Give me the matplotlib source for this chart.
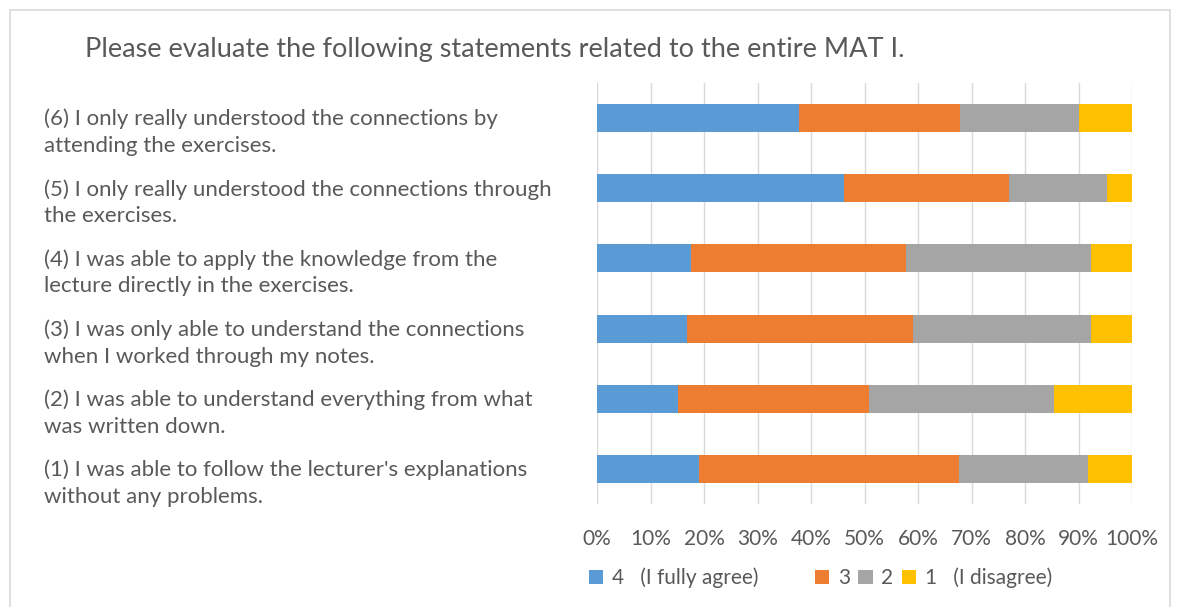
import matplotlib
matplotlib.use("Agg")
import matplotlib.pyplot as plt
from matplotlib.patches import Rectangle
from matplotlib.transforms import ScaledTranslation
import numpy as np

statements = [
    "(1) I was able to follow the lecturer's explanations\nwithout any problems.",
    "(2) I was able to understand everything from what\nwas written down.",
    "(3) I was only able to understand the connections\nwhen I worked through my notes.",
    "(4) I was able to apply the knowledge from the\nlecture directly in the exercises.",
    "(5) I only really understood the connections through\nthe exercises.",
    "(6) I only really understood the connections by\nattending the exercises.",
]
series_labels = ["4   (I fully agree)" + "\u00a0" * 9, "3", "2", "1   (I disagree)"]
v4 = [19.1, 15.1, 16.8, 17.6, 46.1, 37.7]
v3 = [48.6, 35.7, 42.3, 40.2, 30.9, 30.1]
v2 = [24.0, 34.6, 33.3, 34.6, 18.4, 22.2]
v1 = [8.3, 14.6, 7.6, 7.6, 4.6, 10.0]
xticks = [0, 10, 20, 30, 40, 50, 60, 70, 80, 90, 100]
xticklabels = ["0%", "10%", "20%", "30%", "40%", "50%", "60%", "70%", "80%", "90%", "100%"]

colors = ["#5B9BD5", "#ED7D31", "#A5A5A5", "#FFC000"]
txt = "#595959"
plt.rcParams['font.family'] = ['Lato', 'DejaVu Sans']

W, H = 1179, 607
fig = plt.figure(figsize=(W / 100, H / 100), dpi=100)
fig.patches.append(Rectangle((10 / W, -0.1), (1170 - 10) / W, 1.1 - 10 / H,
                             transform=fig.transFigure, fill=False,
                             edgecolor="#D9D9D9", linewidth=1.2))

ax = fig.add_axes([597 / W, 1 - 504 / H, (1132 - 597) / W, (504 - 83) / H])
y = np.arange(len(statements))
left = np.zeros(len(statements))
for vals, c, lab in zip([v4, v3, v2, v1], colors, series_labels):
    ax.barh(y, vals, left=left, height=0.4, color=c, label=lab, zorder=3)
    left += np.array(vals)

ax.set_xlim(0, 100)
ax.set_ylim(-0.5, len(statements) - 0.5)
ax.set_xticks(xticks)
ax.set_xticklabels(xticklabels, fontsize=15, color=txt)
ax.set_yticks(y)
ax.set_yticklabels(statements, fontsize=16, color=txt, ha="left", linespacing=1.42)
ax.tick_params(axis="y", length=0, pad=(597 - 44) * 0.72)
ax.tick_params(axis="x", length=0, pad=18)
shift = ScaledTranslation(0, -9 / 100, fig.dpi_scale_trans)
for lbl in ax.get_yticklabels():
    lbl.set_transform(lbl.get_transform() + shift)
ax.grid(axis="x", color="#D9D9D9", linewidth=1, zorder=0)
for s in ax.spines.values():
    s.set_visible(False)

fig.text(85 / W, 1 - 50 / H, "Please evaluate the following statements related to the entire MAT I.",
         fontsize=19.5, color=txt, va="center", ha="left")

leg = fig.legend(loc="center left", bbox_to_anchor=(570 / W, 1 - 578 / H), ncol=4,
                 frameon=False, fontsize=15, handlelength=0.7, handleheight=0.7,
                 handletextpad=0.4, columnspacing=0.4, labelcolor=txt)

fig.savefig("out.png", dpi=100)
